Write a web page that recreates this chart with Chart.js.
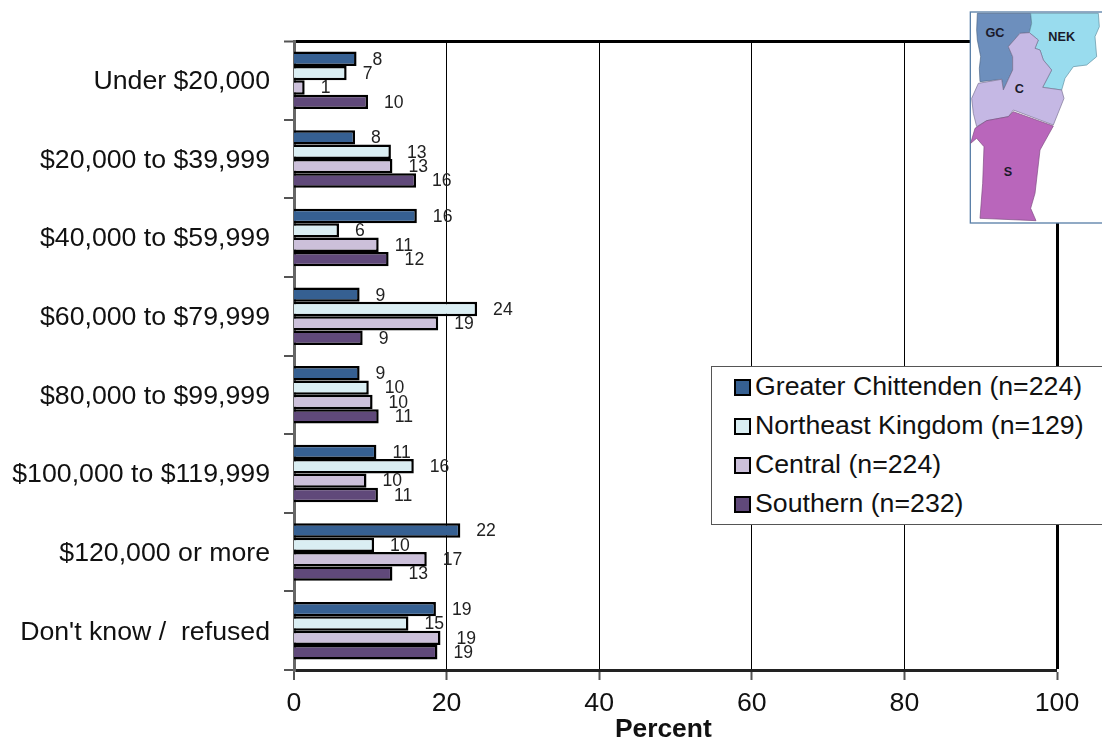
<!DOCTYPE html>
<html>
<head>
<meta charset="utf-8">
<script src="https://cdn.jsdelivr.net/npm/chart.js@4"></script>
<style>
    html, body { margin: 0; padding: 0; background: #fff; }
    body { width: 1102px; height: 742px; position: relative; overflow: hidden; font-family: "Liberation Sans", Arial, sans-serif; }
    canvas { position: absolute; left: 0; top: 0; }
    #legend { position: absolute; left: 711px; top: 366px; width: 400px; height: 157px; box-sizing: content-box; background: #fff; border: 1px solid #555; }
    .row { position: absolute; left: 22px; height: 39px; line-height: 39px; font-size: 26.7px; color: #111; white-space: nowrap; }
    .swatch { display: inline-block; width: 13px; height: 13px; border: 2px solid #000; margin-right: 4px; vertical-align: -1px; }
    #map { position: absolute; left: 960px; top: 0; }
</style>
</head>
<body>
<canvas id="chart" width="1102" height="742"></canvas>
<div id="legend"></div>
<svg id="map" width="142" height="230" viewBox="0 0 426 690">
    <rect x="31" y="36" width="420" height="633" fill="#fff" stroke="#5b80a8" stroke-width="4"/>
    <polygon fill="#6d8fbd" stroke="#4c6587" stroke-width="2" points="52,40 212,40 215,70 208,98 180,100 145,140 158,170 158,210 130,270 125,238 60,245 58,205 62,170 52,120 50,90"/>
    <polygon fill="#99dcee" stroke="#5d8ea0" stroke-width="2" points="212,40 415,40 418,80 405,110 410,170 380,195 340,200 315,235 305,270 248,262 275,210 250,180 240,150 225,145 235,120 208,98 215,70"/>
    <polygon fill="#c5b8e4" stroke="#77708f" stroke-width="2" points="180,100 208,98 235,120 225,145 240,150 250,180 275,210 248,262 305,270 312,295 280,375 160,330 145,350 80,362 50,380 40,340 35,295 55,250 125,238 130,270 158,210 158,170 145,140"/>
    <polygon fill="#b966bb" stroke="#7c4a80" stroke-width="2" points="160,335 280,378 240,450 225,580 212,625 228,662 60,655 68,550 72,440 50,415 32,430 45,385 80,362 145,350"/>
    <g font-family="Liberation Sans, Arial, sans-serif" font-weight="bold" font-size="38" fill="#1a1a2a" text-anchor="middle">
        <text x="105" y="111">GC</text>
        <text x="305" y="123">NEK</text>
        <text x="178" y="280">C</text>
        <text x="144" y="529">S</text>
    </g>
</svg>
<script>
const categories = ["Under $20,000", "$20,000 to $39,999", "$40,000 to $59,999", "$60,000 to $79,999", "$80,000 to $99,999", "$100,000 to $119,999", "$120,000 or more", "Don't know /  refused"];
const seriesNames = ["Greater Chittenden (n=224)", "Northeast Kingdom (n=129)", "Central (n=224)", "Southern (n=232)"];
const seriesColors = ["#366092", "#DAEEF3", "#CCC0DA", "#60497A"];

// bar lengths
const chittenden = [8.2, 8.0, 16.1, 8.6, 8.6, 10.8, 21.8, 18.6];
const kingdom = [6.9, 12.7, 5.9, 24.0, 9.8, 15.7, 10.5, 15.0];
const central = [1.4, 12.9, 11.1, 18.9, 10.3, 9.5, 17.4, 19.2];
const southern = [9.7, 16.0, 12.4, 9.0, 11.1, 11.0, 12.9, 18.8];

// printed labels
const chittendenLabels = [8, 8, 16, 9, 9, 11, 22, 19];
const kingdomLabels = [7, 13, 6, 24, 10, 16, 10, 15];
const centralLabels = [1, 13, 11, 19, 10, 10, 17, 19];
const southernLabels = [10, 16, 12, 9, 11, 11, 13, 19];

const xTicks = [0, 20, 40, 60, 80, 100];
const fontName = '"Liberation Sans", Arial, sans-serif';

const allValues = [chittenden, kingdom, central, southern];
const allLabels = [chittendenLabels, kingdomLabels, centralLabels, southernLabels];

// Numbers next to the bars
const barLabels = {
    id: "barLabels",
    afterDatasetsDraw(chart) {
        const ctx = chart.ctx;
        ctx.save();
        ctx.font = "17.6px " + fontName;
        ctx.fillStyle = "#222";
        ctx.textAlign = "left";
        ctx.textBaseline = "middle";
        chart.data.datasets.forEach((ds, i) => {
            chart.getDatasetMeta(i).data.forEach((bar, j) => {
                ctx.fillText(String(allLabels[i][j]), bar.x + 16, bar.y + 1);
            });
        });
        ctx.restore();
    }
};

// Axis title sits a little left of centre in the original
const percentTitle = {
    id: "percentTitle",
    afterDraw(chart) {
        const ctx = chart.ctx;
        ctx.save();
        ctx.font = "bold 26.4px " + fontName;
        ctx.fillStyle = "#111";
        ctx.textAlign = "center";
        ctx.textBaseline = "middle";
        ctx.fillText("Percent", chart.scales.x.getPixelForValue(48.4), 730);
        ctx.restore();
    }
};

new Chart(document.getElementById("chart").getContext("2d"), {
    type: "bar",
    data: {
        labels: categories,
        datasets: seriesNames.map((name, i) => ({
            label: name,
            data: allValues[i],
            backgroundColor: seriesColors[i],
            borderColor: "#000",
            borderWidth: 2.5,
            categoryPercentage: 0.73,
            barPercentage: 1
        }))
    },
    options: {
        indexAxis: "y",
        responsive: false,
        animation: false,
        layout: { padding: { top: 41, right: 45, left: 0, bottom: 0 } },
        plugins: { legend: { display: false }, tooltip: { enabled: false }, title: { display: false } },
        scales: {
            x: {
                min: 0,
                max: 100,
                afterBuildTicks(scale) { scale.ticks = xTicks.map(v => ({ value: v })); },
                afterFit(scale) { scale.height = 72; },
                border: { color: "#222", width: 3 },
                grid: {
                    color: "#000",
                    lineWidth: c => (c.tick && c.tick.value === 100 ? 3 : (c.tick && c.tick.value === 0 ? 0 : 1)),
                    tickColor: "#555",
                    tickWidth: 2,
                    tickLength: 10
                },
                ticks: { color: "#111", font: { size: 26.7, family: fontName }, padding: 8, maxRotation: 0 }
            },
            y: {
                afterFit(scale) { scale.width = 294; },
                border: { color: "#666", width: 3 },
                grid: {
                    offset: true,
                    color: "#000",
                    lineWidth: c => (c.index === 0 ? 3 : 0),
                    tickColor: "#555",
                    tickWidth: 2,
                    tickLength: 10
                },
                ticks: {
                    color: "#111",
                    font: { size: 26.7, family: fontName },
                    padding: 14,
                    autoSkip: false,
                    labelOffset: 1.5
                }
            }
        }
    },
    plugins: [barLabels, percentTitle]
});

// Legend box
const legendBox = document.getElementById("legend");
seriesNames.forEach((name, i) => {
    const row = document.createElement("div");
    row.className = "row";
    row.style.top = (i * 39) + "px";
    const swatch = document.createElement("span");
    swatch.className = "swatch";
    swatch.style.background = seriesColors[i];
    row.appendChild(swatch);
    row.appendChild(document.createTextNode(name));
    legendBox.appendChild(row);
});
</script>
</body>
</html>
